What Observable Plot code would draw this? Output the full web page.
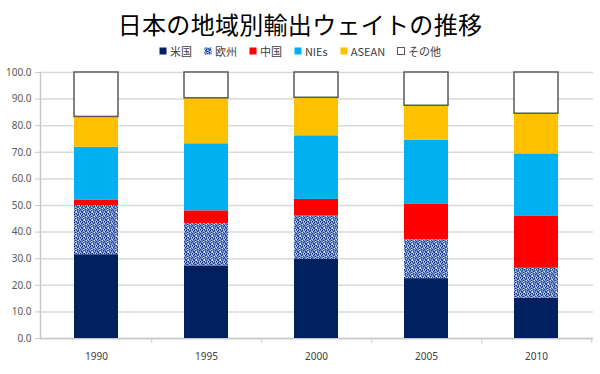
<!DOCTYPE html>
<html>
<head>
<meta charset="utf-8">
<script src="https://cdn.jsdelivr.net/npm/d3@7"></script>
<script src="https://cdn.jsdelivr.net/npm/@observablehq/plot@0.6"></script>
<style>
  body { margin: 0; background: #fff; font-family: "Noto Sans CJK JP", "Noto Sans", sans-serif; }
  #title { height: 42px; line-height: 48px; text-align: center; font-size: 24px; letter-spacing: 0.3px; color: #000; }
  #legend { height: 18px; display: flex; justify-content: center; align-items: center; gap: 12px; font-size: 11px; color: #404040; }
  #legend span.item { display: inline-flex; align-items: center; gap: 3px; }
  #legend svg { display: block; }
  #chart svg { display: block; }
</style>
</head>
<body>
<div id="title">日本の地域別輸出ウェイトの推移</div>
<div id="legend"></div>
<div id="chart"></div>
<script>
const years = ["1990", "1995", "2000", "2005", "2010"];
const regions = ["米国", "欧州", "中国", "NIEs", "ASEAN", "その他"];
const us    = [31.5, 27.3, 29.7, 22.5, 15.2];
const eu    = [18.5, 15.9, 16.3, 14.6, 11.2];
const cn    = [2.1, 4.8, 6.3, 13.5, 19.5];
const nies  = [19.8, 25.2, 23.9, 24.0, 23.5];
const asean = [11.4, 17.1, 14.3, 12.9, 15.1];
const other = [16.7, 9.7, 9.5, 12.5, 15.5];
const yTicks = [0, 10, 20, 30, 40, 50, 60, 70, 80, 90, 100];

const colors = ["#002060", "url(#euPattern)", "#ff0000", "#00b0f0", "#ffc000", "#ffffff"];
const series = [us, eu, cn, nies, asean, other];

const data = [];
regions.forEach((r, ri) => years.forEach((y, yi) => data.push({year: y, region: r, ri, value: series[ri][yi]})));

const W = 600, H = 314, ML = 40, MR = 7, MT = 12, MB = 36;
const step = (W - ML - MR) / years.length;

// speckled texture tile for 欧州
const tileRows = [
  "lmdlwldm",
  "dlmmdlmw",
  "mldlmmdl",
  "wdmlldml",
  "lmmdmlwd",
  "dlmwldml",
  "mmldmmld",
  "ldmlwdlm"
];
const tileColors = {d: "#1f3d8a", m: "#5676c2", l: "#8fa9e0", w: "#d3e0f6"};
function patternDefs(id) {
  let s = `<pattern id="${id}" patternUnits="userSpaceOnUse" width="8" height="8">`;
  tileRows.forEach((row, ry) => [...row].forEach((c, cx) => {
    s += `<rect x="${cx}" y="${ry}" width="1" height="1" fill="${tileColors[c]}"/>`;
  }));
  return s + `</pattern>`;
}

const plot = Plot.plot({
  width: W, height: H,
  marginLeft: ML, marginRight: MR, marginTop: MT, marginBottom: MB,
  style: {fontFamily: "'Noto Sans', sans-serif", background: "#fff"},
  x: {domain: years, paddingInner: 0.6, paddingOuter: 0.3, label: null},
  y: {domain: [0, 100], label: null},
  marks: [
    Plot.gridY(yTicks, {stroke: "#d9d9d9", strokeOpacity: 1, strokeWidth: 1.5}),
    Plot.ruleY([0], {stroke: "#c8c8c8", strokeWidth: 1.5}),
    Plot.ruleX(years, {x: d => d, dx: step / 2, y1: 0, y2: 0, insetBottom: -5, stroke: "#c8c8c8"}),
    Plot.frame({anchor: "left", stroke: "#c8c8c8", strokeWidth: 1.5}),
    Plot.rectY(data, Plot.stackY({
      x: "year", y: "value", z: "region", order: regions,
      fill: d => colors[d.ri],
      stroke: d => d.region === "その他" ? "#595959" : "none",
      strokeWidth: 1.5
    })),
    Plot.axisY(yTicks, {tickFormat: d3.format(".1f"), tickSize: 5, tickPadding: 4, fontSize: 10, stroke: "#c8c8c8", fill: "#595959", label: null}),
    Plot.axisX({tickSize: 0, tickPadding: 14, fontSize: 10, fill: "#404040", label: null})
  ]
});

const svgEl = plot.tagName.toLowerCase() === "svg" ? plot : plot.querySelector("svg");
const defs = document.createElementNS("http://www.w3.org/2000/svg", "defs");
defs.innerHTML = patternDefs("euPattern");
svgEl.insertBefore(defs, svgEl.firstChild);
document.getElementById("chart").appendChild(plot);

// legend
const legend = document.getElementById("legend");
regions.forEach((r, i) => {
  const item = document.createElement("span");
  item.className = "item";
  const stroke = r === "その他" ? ' stroke="#595959" stroke-width="1"' : "";
  const fill = i === 1 ? "url(#euPatternL)" : colors[i];
  item.innerHTML = `<svg width="8" height="8"><defs>${i === 1 ? patternDefs("euPatternL") : ""}</defs><rect x="0.5" y="0.5" width="7" height="7" fill="${fill}"${stroke}/></svg><span>${r}</span>`;
  legend.appendChild(item);
});
</script>
</body>
</html>
